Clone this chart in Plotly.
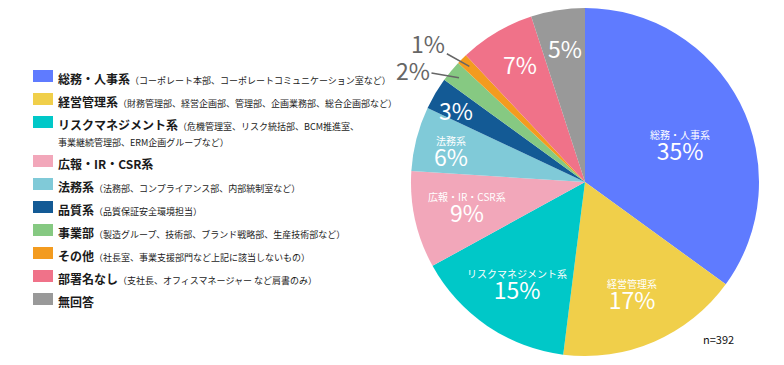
import numpy as np
import plotly.graph_objects as go

# ---- data ----
categories = ["総務・人事系", "経営管理系", "リスクマネジメント系", "広報・IR・CSR系", "法務系",
              "品質系", "事業部", "その他", "部署名なし", "無回答"]
details = ["（コーポレート本部、コーポレートコミュニケーション室など）",
           "（財務管理部、経営企画部、管理部、企画業務部、総合企画部など）",
           "（危機管理室、リスク統括部、BCM推進室、<br>事業継続管理部、ERM企画グループなど）",
           "",
           "（法務部、コンプライアンス部、内部統制室など）",
           "（品質保証安全環境担当）",
           "（製造グループ、技術部、ブランド戦略部、生産技術部など）",
           "（社長室、事業支援部門など上記に該当しないもの）",
           "（支社長、オフィスマネージャー など肩書のみ）",
           ""]
values = [35, 17, 15, 9, 6, 3, 2, 1, 7, 5]
colors = ["#5F7BFF", "#F0CF4A", "#00C8C8", "#F2A7BA", "#80CAD8",
          "#135A95", "#86C982", "#F39B1F", "#F07289", "#999999"]
show_name = [True, True, True, True, True, False, False, False, False, False]
outside = [False, False, False, False, False, False, True, True, False, False]
sample_note = "n=392"

# ---- label placement (layout only) ----
label_r = [0.57, 0.75, 0.75, 0.71, 0.78, 0.85, 0.94, 0.94, 0.775, 0.78]
label_dang = [11, 2.5, -3, -4, -5.5, -1.4, 0, 0, 1.8, 0.5]
outside_offset = {6: (-46, -8), 7: (-41, -23)}

FONT = "Noto Sans CJK JP"
W, H = 784, 365
cx, cy, R = 585, 182, 174

fig = go.Figure()
fig.add_trace(go.Pie(
    labels=categories, values=values, sort=False, direction="clockwise", rotation=0,
    marker=dict(colors=colors, line=dict(width=0)),
    textinfo="none", hoverinfo="label+percent", showlegend=False,
    domain=dict(x=[(cx - R) / W, (cx + R) / W], y=[(H - cy - R) / H, (H - cy + R) / H]),
))

# axes used as a pixel canvas for legend / annotations
fig.update_xaxes(range=[0, W], visible=False, fixedrange=True)
fig.update_yaxes(range=[H, 0], visible=False, fixedrange=True)

shapes, annotations = [], []

# custom legend
y = 76
for c, d, col in zip(categories, details, colors):
    shapes.append(dict(type="rect", xref="x", yref="y", x0=33, x1=53, y0=y - 6, y1=y + 6,
                       fillcolor=col, line=dict(width=0)))
    txt = f"<b>{c}</b>"
    if d:
        first, *rest = d.split("<br>")
        txt += f"<span style='font-size:9px'>{first}</span>"
        for r in rest:
            txt += f"<br><span style='font-size:9px'>{r}</span>"
    annotations.append(dict(x=56, y=y - 8, xref="x", yref="y", xanchor="left", yanchor="top",
                            text=txt, showarrow=False, align="left",
                            font=dict(family=FONT, size=12, color="#1a1a1a")))
    nlines = d.count("<br>")
    y += 23 + nlines * 16

# slice labels, positioned from each slice's angle
total = sum(values)
cum = np.cumsum([0] + values[:-1])
for i, v in enumerate(values):
    mid = np.deg2rad((cum[i] + v / 2) / total * 360 + label_dang[i])
    px = cx + label_r[i] * R * np.sin(mid)
    py = cy - label_r[i] * R * np.cos(mid)
    if outside[i]:
        ax, ay = outside_offset[i]
        annotations.append(dict(x=px, y=py, xref="x", yref="y", ax=ax, ay=ay, text=f"{v}%",
                                showarrow=True, arrowhead=0, arrowwidth=1.5, arrowcolor="#666666",
                                standoff=0, startstandoff=0,
                                font=dict(family=FONT, size=23, color="#666666")))
    elif show_name[i]:
        annotations.append(dict(
            x=px, y=py - 8, xref="x", yref="y", showarrow=False, borderpad=0,
            text=f"<span style='font-size:10px'>{categories[i]}</span><br>"
                 f"<span style='font-size:23px'>{v}%</span>",
            font=dict(family=FONT, size=16, color="white")))
    else:
        annotations.append(dict(x=px, y=py, xref="x", yref="y", text=f"{v}%", showarrow=False,
                                font=dict(family=FONT, size=23, color="white")))

annotations.append(dict(x=718, y=339, xref="x", yref="y", text=sample_note, showarrow=False,
                        font=dict(family=FONT, size=11, color="#111111")))

fig.update_layout(width=W, height=H, margin=dict(l=0, r=0, t=0, b=0),
                  paper_bgcolor="white", plot_bgcolor="white",
                  shapes=shapes, annotations=annotations, showlegend=False)
fig.write_html("out.html", config={"displayModeBar": False},
               post_script="document.body.style.margin='0';document.body.style.overflow='hidden';")
